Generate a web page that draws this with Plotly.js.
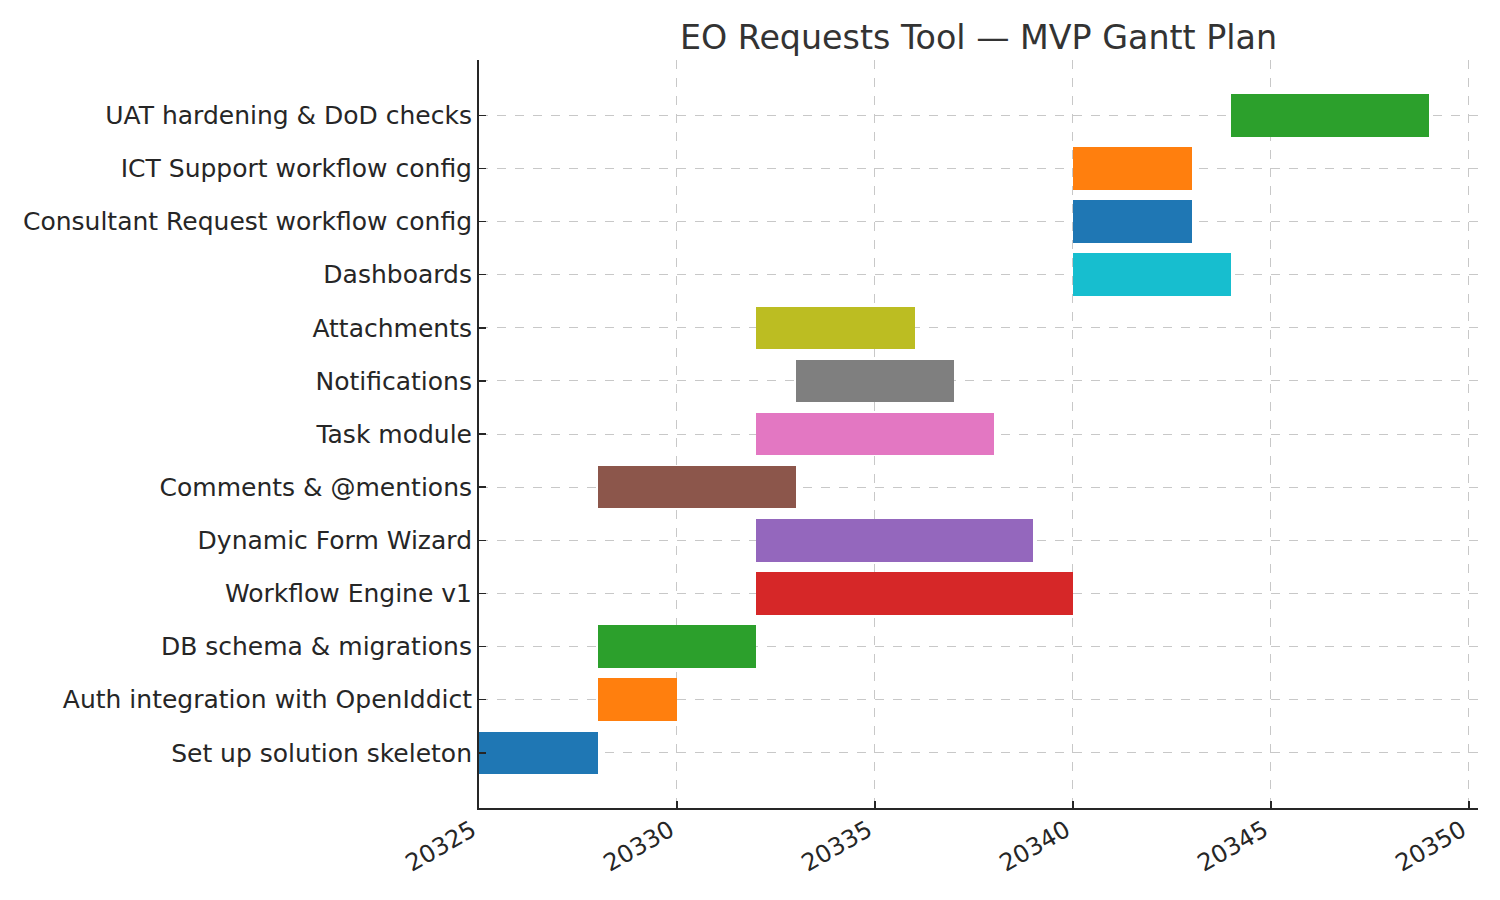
<!DOCTYPE html>
<html>
<head>
<meta charset="utf-8">
<script src="https://cdn.plot.ly/plotly-3.0.1.min.js"></script>
<style>html,body{margin:0;padding:0;background:#fff;}#chart{width:1500px;height:900px;}</style>
</head>
<body>
<div id="chart"></div>
<script>
const tasks = [
  "Set up solution skeleton",
  "Auth integration with OpenIddict",
  "DB schema & migrations",
  "Workflow Engine v1",
  "Dynamic Form Wizard",
  "Comments & @mentions",
  "Task module",
  "Notifications",
  "Attachments",
  "Dashboards",
  "Consultant Request workflow config",
  "ICT Support workflow config",
  "UAT hardening & DoD checks"
];
const startDays = [20325, 20328, 20328, 20332, 20332, 20328, 20332, 20333, 20332, 20340, 20340, 20340, 20344];
const durations = [3, 2, 4, 8, 7, 5, 6, 4, 4, 4, 3, 3, 5];
const xTicks = [20325, 20330, 20335, 20340, 20345, 20350];
const palette = ["#1f77b4","#ff7f0e","#2ca02c","#d62728","#9467bd","#8c564b","#e377c2","#7f7f7f","#bcbd22","#17becf"];

const idx = tasks.map((_, i) => i);
const colors = idx.map(i => palette[i % palette.length]);

const trace = {
  type: 'bar',
  orientation: 'h',
  y: idx,
  x: durations,
  base: startDays,
  width: 0.8,
  marker: {color: colors, line: {width: 0}},
  hoverinfo: 'skip'
};

const font = "DejaVu Sans, sans-serif";
const layout = {
  width: 1500, height: 900,
  margin: {l: 479, r: 22, t: 60, b: 92},
  paper_bgcolor: '#fff', plot_bgcolor: '#fff',
  showlegend: false,
  bargap: 0,
  title: {
    text: "EO Requests Tool — MVP Gantt Plan",
    font: {family: font, size: 33.3, color: '#333333'},
    x: 0.5, xref: 'paper', xanchor: 'center',
    y: 1, yref: 'paper', yanchor: 'bottom',
    pad: {b: 11}
  },
  xaxis: {
    range: [20325, 20350.23],
    tickvals: xTicks,
    ticktext: xTicks.map(String),
    tickangle: -30,
    tickfont: {family: font, size: 24, color: '#262626'},
    ticks: 'inside', ticklen: 7, tickwidth: 1.5, tickcolor: '#262626',
    ticklabelshift: -7,
    ticklabelstandoff: -3,
    showline: true, linecolor: '#262626', linewidth: 2, mirror: false,
    showgrid: true, gridcolor: '#c8c8c8', griddash: 'dash', gridwidth: 1,
    zeroline: false, fixedrange: true
  },
  yaxis: {
    range: [-1.04, 13.04],
    tickvals: idx,
    ticktext: tasks,
    tickfont: {family: font, size: 25, color: '#262626'},
    ticks: 'inside', ticklen: 7, tickwidth: 1.5, tickcolor: '#262626',
    ticklabelstandoff: 0,
    showline: true, linecolor: '#262626', linewidth: 2, mirror: false,
    showgrid: true, gridcolor: '#c8c8c8', griddash: 'dash', gridwidth: 1,
    zeroline: false, fixedrange: true
  }
};

Plotly.newPlot('chart', [trace], layout, {staticPlot: true, displayModeBar: false});
</script>
</body>
</html>
